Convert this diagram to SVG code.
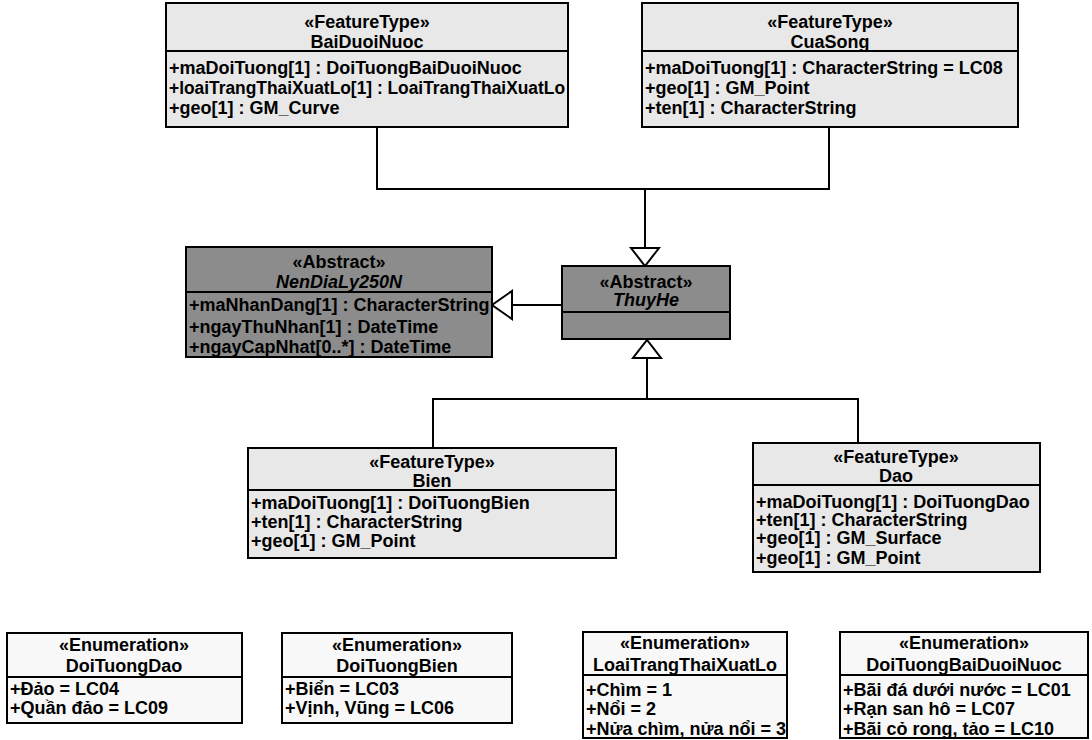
<svg xmlns="http://www.w3.org/2000/svg" width="1092" height="740" viewBox="0 0 1092 740">
  <style>
    text { font-family: "Liberation Sans", Arial, sans-serif; font-weight: bold; font-size: 18px; fill: #000; }
    .c { text-anchor: middle; }
    .i { font-style: italic; }
    .box { stroke: #000; stroke-width: 2; }
    .feat { fill: #e8e8e8; }
    .abs { fill: #8c8c8c; }
    .enum { fill: #f8f8f8; }
    .div { stroke: #000; stroke-width: 2; }
    .edge { fill: none; stroke: #000; stroke-width: 2; }
    .head { fill: #fff; stroke: #000; stroke-width: 2; }
  </style>

  <!-- generalization connectors -->
  <g id="connectors">
    <path class="edge" d="M377,127 V189 H829 V127"/>
    <path class="edge" d="M645,189 V248"/>
    <polygon class="head" points="631,248 659,248 645,266"/>
    <path class="edge" d="M562,305 H512"/>
    <polygon class="head" points="512,291 512,319 492,305"/>
    <path class="edge" d="M647,358 V399"/>
    <path class="edge" d="M433,448 V399 H858 V443"/>
    <polygon class="head" points="633,358 661,358 647,340"/>
  </g>

  <g id="BaiDuoiNuoc">
    <rect class="box feat" x="166" y="3" width="402" height="124"/>
    <line class="div" x1="166" y1="51" x2="568" y2="51"/>
    <text class="c" x="367" y="28">«FeatureType»</text>
    <text class="c" x="367" y="48">BaiDuoiNuoc</text>
    <text x="169" y="74">+maDoiTuong[1] : DoiTuongBaiDuoiNuoc</text>
    <text x="169" y="94" textLength="396" lengthAdjust="spacingAndGlyphs">+loaiTrangThaiXuatLo[1] : LoaiTrangThaiXuatLo</text>
    <text x="169" y="114">+geo[1] : GM_Curve</text>
  </g>

  <g id="CuaSong">
    <rect class="box feat" x="642" y="3" width="376" height="124"/>
    <line class="div" x1="642" y1="51" x2="1018" y2="51"/>
    <text class="c" x="830" y="28">«FeatureType»</text>
    <text class="c" x="830" y="48">CuaSong</text>
    <text x="645" y="74">+maDoiTuong[1] : CharacterString = LC08</text>
    <text x="645" y="94">+geo[1] : GM_Point</text>
    <text x="645" y="114">+ten[1] : CharacterString</text>
  </g>

  <g id="NenDiaLy250N">
    <rect class="box abs" x="186" y="247" width="306" height="110"/>
    <line class="div" x1="186" y1="292" x2="492" y2="292"/>
    <text class="c" x="339" y="268">«Abstract»</text>
    <text class="c i" x="339" y="288">NenDiaLy250N</text>
    <text x="189" y="311">+maNhanDang[1] : CharacterString</text>
    <text x="189" y="333">+ngayThuNhan[1] : DateTime</text>
    <text x="189" y="353">+ngayCapNhat[0..*] : DateTime</text>
  </g>

  <g id="ThuyHe">
    <rect class="box abs" x="562" y="266" width="168" height="73"/>
    <line class="div" x1="562" y1="312" x2="730" y2="312"/>
    <text class="c" x="646" y="288">«Abstract»</text>
    <text class="c i" x="646" y="306">ThuyHe</text>
  </g>

  <g id="Bien">
    <rect class="box feat" x="248" y="448" width="368" height="110"/>
    <line class="div" x1="248" y1="490" x2="616" y2="490"/>
    <text class="c" x="432" y="468">«FeatureType»</text>
    <text class="c" x="432" y="487">Bien</text>
    <text x="251" y="509">+maDoiTuong[1] : DoiTuongBien</text>
    <text x="251" y="528">+ten[1] : CharacterString</text>
    <text x="251" y="547">+geo[1] : GM_Point</text>
  </g>

  <g id="Dao">
    <rect class="box feat" x="753" y="443" width="287" height="129"/>
    <line class="div" x1="753" y1="485" x2="1040" y2="485"/>
    <text class="c" x="896" y="463">«FeatureType»</text>
    <text class="c" x="896" y="482">Dao</text>
    <text x="756" y="508">+maDoiTuong[1] : DoiTuongDao</text>
    <text x="756" y="526">+ten[1] : CharacterString</text>
    <text x="756" y="544">+geo[1] : GM_Surface</text>
    <text x="756" y="564">+geo[1] : GM_Point</text>
  </g>

  <g id="DoiTuongDao">
    <rect class="box enum" x="7" y="633" width="235" height="90"/>
    <line class="div" x1="7" y1="677" x2="242" y2="677"/>
    <text class="c" x="124" y="651">«Enumeration»</text>
    <text class="c" x="124" y="672">DoiTuongDao</text>
    <text x="10" y="695">+Đảo = LC04</text>
    <text x="10" y="714">+Quần đảo = LC09</text>
  </g>

  <g id="DoiTuongBien">
    <rect class="box enum" x="282" y="633" width="230" height="90"/>
    <line class="div" x1="282" y1="677" x2="512" y2="677"/>
    <text class="c" x="397" y="651">«Enumeration»</text>
    <text class="c" x="397" y="672">DoiTuongBien</text>
    <text x="285" y="695">+Biển = LC03</text>
    <text x="285" y="714">+Vịnh, Vũng = LC06</text>
  </g>

  <g id="LoaiTrangThaiXuatLo">
    <rect class="box enum" x="583" y="632" width="204" height="106"/>
    <line class="div" x1="583" y1="675" x2="787" y2="675"/>
    <text class="c" x="685" y="649">«Enumeration»</text>
    <text class="c" x="685" y="671">LoaiTrangThaiXuatLo</text>
    <text x="586" y="696">+Chìm = 1</text>
    <text x="586" y="715">+Nổi = 2</text>
    <text x="586" y="735">+Nửa chìm, nửa nổi = 3</text>
  </g>

  <g id="DoiTuongBaiDuoiNuoc">
    <rect class="box enum" x="840" y="632" width="248" height="106"/>
    <line class="div" x1="840" y1="675" x2="1088" y2="675"/>
    <text class="c" x="964" y="649">«Enumeration»</text>
    <text class="c" x="964" y="671">DoiTuongBaiDuoiNuoc</text>
    <text x="843" y="696">+Bãi đá dưới nước = LC01</text>
    <text x="843" y="715">+Rạn san hô = LC07</text>
    <text x="843" y="735">+Bãi cỏ rong, tảo = LC10</text>
  </g>
</svg>
